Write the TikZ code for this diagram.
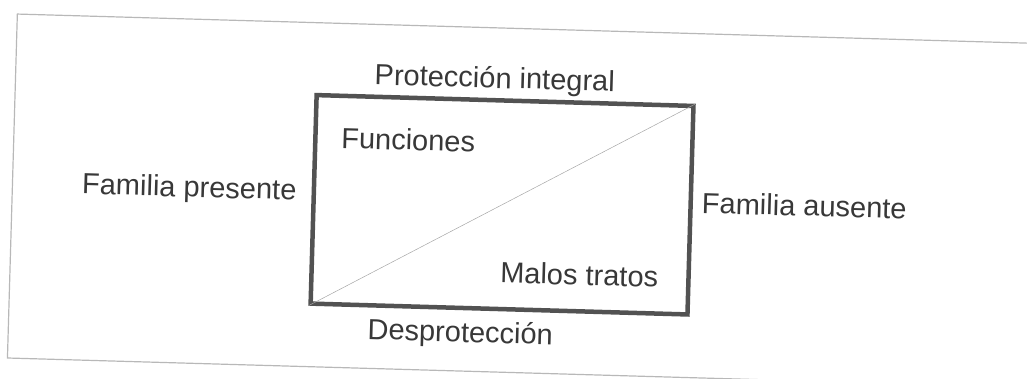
\documentclass[tikz,border=0pt]{standalone}
\usepackage{fontspec}
\setmainfont{Liberation Sans}
\tikzset{
  texto/.style={anchor=base,text=black!78,font=\fontsize{29}{34}\selectfont,inner sep=0pt},
  caja/.style={draw=black!68,line width=4.5pt,minimum width=377pt,minimum height=208.6pt,inner sep=0pt},
}
\begin{document}
\begin{tikzpicture}[x=1pt,y=1pt]
   \useasboundingbox (0,0) rectangle (1027,378);
   \begin{scope}[rotate around={-1.65:(513.5,189)},transform shape]
   % marco
   \draw[black!28,line width=1.2pt] (1060,349.6) -- (12.5,349.6) -- (12.5,5.5) -- (1060,5.5);

   % cuadro
   \node[caja] (caja) at (502.5,172.9) {};
   \draw[black!35,line width=0.5pt] (caja.south west) -- (caja.north east);

   \node[texto] (proteccion) at (491.6,289.4) {Protección integral};
   \node[texto] (funciones) at (406.9,224.9) {Funciones};
   \node[texto] (presente) at (189.4,171.7) {Familia presente};
   \node[texto] (ausente) at (804.7,170.4) {Familia ausente};
   \node[texto] (malos) at (581.7,94.9) {Malos tratos};
   \node[texto] (desproteccion) at (464.4,34.5) {Desprotección};
   \end{scope}
\end{tikzpicture}
\end{document}
